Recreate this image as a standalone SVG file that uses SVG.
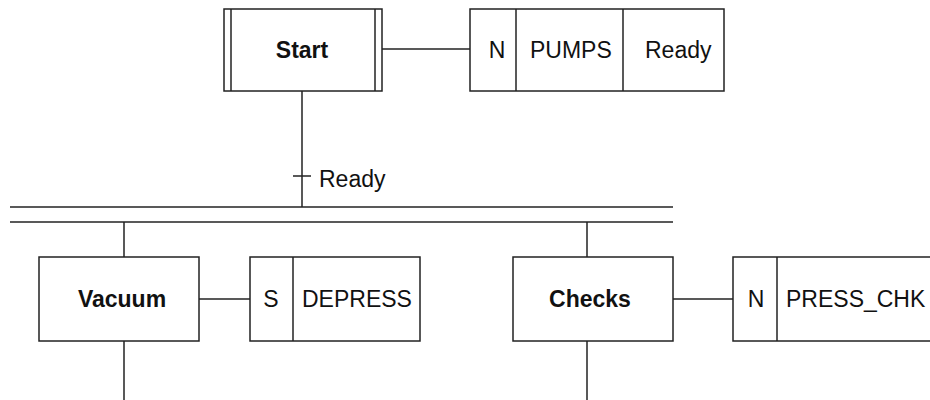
<svg xmlns="http://www.w3.org/2000/svg" width="930" height="400" viewBox="0 0 930 400">
<style>
.box{fill:#fff;stroke:#222;stroke-width:1.5}
.ln{fill:none;stroke:#222;stroke-width:1.5}
.t{font-family:"Liberation Sans",Arial,sans-serif;font-size:23px;fill:#111}
.b{font-weight:bold;text-anchor:middle}
.m{text-anchor:middle}
</style>
<rect width="930" height="400" fill="#fff"/>
<g id="connectors">
<line class="ln" x1="302" y1="91" x2="302" y2="207"/>
<line class="ln" x1="293" y1="176" x2="311" y2="176"/>
<text class="t" x="319" y="187">Ready</text>
<line class="ln" x1="10" y1="207" x2="673" y2="207"/>
<line class="ln" x1="10" y1="222" x2="673" y2="222"/>
<line class="ln" x1="124" y1="222" x2="124" y2="257"/>
<line class="ln" x1="587" y1="222" x2="587" y2="257"/>
<line class="ln" x1="124" y1="341" x2="124" y2="400"/>
<line class="ln" x1="587" y1="341" x2="587" y2="400"/>
<line class="ln" x1="382" y1="49" x2="470" y2="49"/>
<line class="ln" x1="199" y1="299" x2="250" y2="299"/>
<line class="ln" x1="673" y1="299" x2="733" y2="299"/>
</g>
<g id="start">
<rect class="box" x="224" y="9" width="158" height="82"/>
<line class="ln" x1="231" y1="9" x2="231" y2="91"/>
<line class="ln" x1="375" y1="9" x2="375" y2="91"/>
<text class="t b" x="302" y="58">Start</text>
</g>
<g id="start-action">
<rect class="box" x="470" y="9" width="254" height="82"/>
<line class="ln" x1="516" y1="9" x2="516" y2="91"/>
<line class="ln" x1="623" y1="9" x2="623" y2="91"/>
<text class="t m" x="497" y="58">N</text>
<text class="t" x="530" y="58">PUMPS</text>
<text class="t" x="645" y="58">Ready</text>
</g>
<g id="vacuum">
<rect class="box" x="39" y="257" width="160" height="84"/>
<text class="t b" x="122" y="307">Vacuum</text>
</g>
<g id="vacuum-action">
<rect class="box" x="250" y="257" width="170" height="84"/>
<line class="ln" x1="293" y1="257" x2="293" y2="341"/>
<text class="t m" x="271" y="307">S</text>
<text class="t" x="302" y="307">DEPRESS</text>
</g>
<g id="checks">
<rect class="box" x="513" y="257" width="160" height="84"/>
<text class="t b" x="590" y="307">Checks</text>
</g>
<g id="checks-action">
<rect class="box" x="733" y="257" width="210" height="84"/>
<line class="ln" x1="777" y1="257" x2="777" y2="341"/>
<text class="t m" x="756" y="307">N</text>
<text class="t" x="786" y="307">PRESS_CHK</text>
</g>
</svg>
